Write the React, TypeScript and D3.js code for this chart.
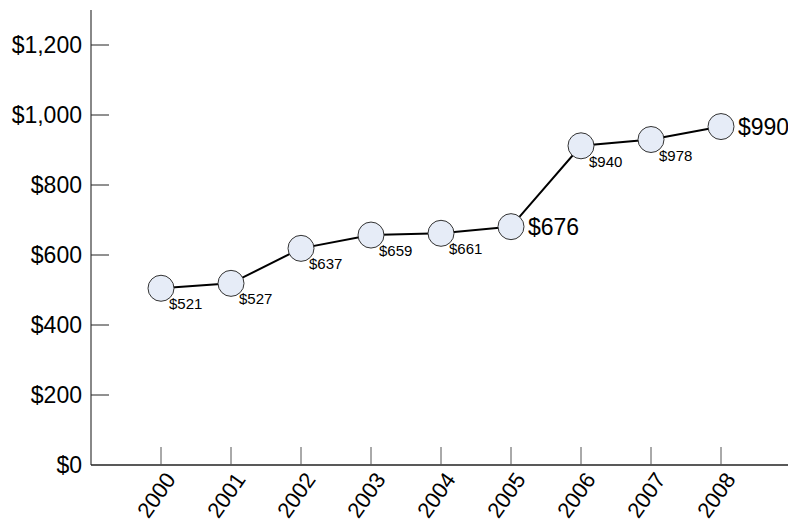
import React from "react";
import * as d3 from "d3";

const years = ["2000", "2001", "2002", "2003", "2004", "2005", "2006", "2007", "2008"];
const plotted = [505, 519, 619, 657, 662, 681, 912, 930, 967];
const labels = ["$521", "$527", "$637", "$659", "$661", "$676", "$940", "$978", "$990"];
const bigLabel = [false, false, false, false, false, true, false, false, true];
const yTicks = [0, 200, 400, 600, 800, 1000, 1200];

const W = 788, H = 522;
const font = "'Liberation Sans', Arial, sans-serif";

export default function App() {
  const x = d3.scaleLinear().domain([-1, 9]).range([91, 791]);
  const y = d3.scaleLinear().domain([0, 1200]).range([465, 45]);
  const fmt = (v: number) => "$" + d3.format(",")(v);
  const line = d3.line<number>().x((_, i) => x(i)).y((d) => y(d));
  return (
    <svg width={W} height={H} style={{ position: "absolute", left: 0, top: 0, background: "#fff" }} fontFamily={font}>
      {/* y axis */}
      <line x1={91} x2={91} y1={10} y2={465} stroke="#888" strokeWidth={2} />
      {yTicks.map((t) => (
        <g key={t}>
          {t > 0 && <line x1={91} x2={109} y1={y(t)} y2={y(t)} stroke="#222" strokeWidth={1} />}
          <text x={82} y={y(t)} dy="0.35em" textAnchor="end" fontSize={23} fill="#000">{fmt(t)}</text>
        </g>
      ))}
      {/* x axis */}
      <line x1={91} x2={788} y1={465} y2={465} stroke="#222" strokeWidth={1.5} />
      {years.map((yr, i) => (
        <g key={yr}>
          <line x1={x(i)} x2={x(i)} y1={465} y2={447} stroke="#555" strokeWidth={1} />
          <text transform={`translate(${x(i) + 2},${470}) rotate(-55)`} textAnchor="end" dy="0.75em" fontSize={22} fill="#000">{yr}</text>
        </g>
      ))}
      <path d={line(plotted) || ""} fill="none" stroke="#000" strokeWidth={2} />
      {plotted.map((v, i) => (
        <circle key={i} cx={x(i)} cy={y(v)} r={13} fill="#e6ecf7" stroke="#333" strokeWidth={1} />
      ))}
      {plotted.map((v, i) =>
        bigLabel[i] ? (
          <text key={i} x={x(i) + 17} y={y(v)} dy="0.35em" fontSize={23} fill="#000">{labels[i]}</text>
        ) : (
          <text key={i} x={x(i) + 8} y={y(v) + 21} fontSize={15} fill="#000">{labels[i]}</text>
        )
      )}
    </svg>
  );
}
